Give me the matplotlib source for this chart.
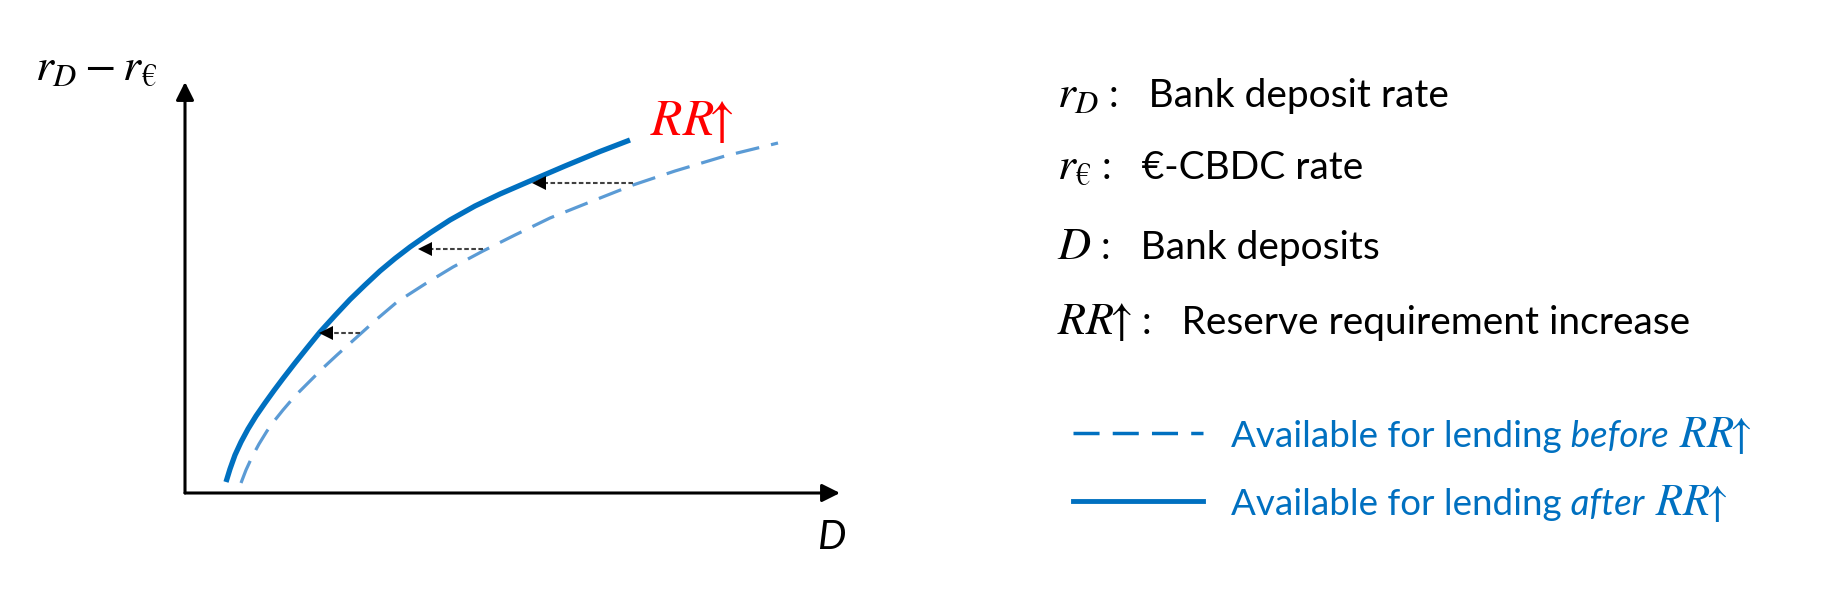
import matplotlib
matplotlib.use('Agg')
import matplotlib.pyplot as plt

plt.rcParams['font.family'] = ['Lato', 'DejaVu Sans']
plt.rcParams['mathtext.fontset'] = 'custom'
plt.rcParams['mathtext.it'] = 'STIXGeneral:italic'
plt.rcParams['mathtext.rm'] = 'STIXGeneral'
plt.rcParams['mathtext.fallback'] = 'stix'

# curves (D to the right, spread upwards)
after_x = [41, 45, 50, 56, 63, 71, 80, 89, 98, 110, 122, 135, 150, 165, 180, 195,
           210, 225, 245, 265, 290, 315, 345, 380, 415, 445]
after_y = [11, 24, 38, 51, 64, 77, 90, 102.5, 114.5, 130, 145, 161, 177.5, 193.5, 208, 222,
           234.5, 246, 260, 273, 287, 299, 312, 327, 341.5, 353]
before_x = [56, 61, 67, 74, 82, 90, 98, 110, 124, 138, 152, 172, 192, 212, 240, 268,
            298, 330, 365, 405, 448, 490, 540, 593]
before_y = [10, 23, 36, 49, 62, 73, 83, 97, 111, 125, 138, 156, 174, 191, 209, 226,
            242, 258, 275, 291, 308, 322, 337, 350]

# horizontal shift arrows (from the dashed curve to the solid one)
shift_from = [175, 298, 448]
shift_to = [134, 233, 347]
shift_y = [160, 244, 310]

glossary_symbols = [r'$r_D$', r'$r_€$', r'$D$', r'$RR\!\!\uparrow$']
glossary_texts = [' :   Bank deposit rate', ' :   €-CBDC rate', ' :   Bank deposits',
                  ' :   Reserve requirement increase']
legend_words = ['before', 'after']

blue = '#0070C0'
light_blue = '#5B9BD5'

fig = plt.figure(figsize=(18.35, 6), dpi=100)
renderer = fig.canvas.get_renderer()

# diagram
ax = fig.add_axes([185 / 1835, 107 / 600, 715 / 1835, 463 / 600])
ax.set_xlim(0, 715)
ax.set_ylim(0, 463)
ax.axis('off')

ax.annotate('', xy=(0, 411), xytext=(0, 0),
            arrowprops=dict(arrowstyle='-|>', lw=2.2, color='black',
                            mutation_scale=27, shrinkA=0, shrinkB=0))
ax.annotate('', xy=(655, 0), xytext=(0, 0),
            arrowprops=dict(arrowstyle='-|>', lw=2.2, color='black',
                            mutation_scale=27, shrinkA=0, shrinkB=0))

ax.plot(before_x, before_y, color=light_blue, lw=2.3, dashes=(7.5, 3.8),
        solid_capstyle='butt')
ax.plot(after_x, after_y, color=blue, lw=3.8, solid_capstyle='butt')

for x0, x1, y in zip(shift_from, shift_to, shift_y):
    ax.plot([x0, x1 + 8], [y, y], color='#404040', lw=1.5, dashes=(2.2, 1.2))
    ax.plot(x1 + 6.5, y, marker='<', markersize=10, color='black',
            markeredgewidth=0)

ax.text(-150, 413, r'$r_D - r_€$', fontsize=33, ha='left', va='baseline',
        clip_on=False)
ax.text(632, -56, 'D', fontsize=29, style='italic', ha='left', va='baseline',
        clip_on=False)
ax.text(465, 358, r'$RR\!\!\uparrow$', fontsize=37, color='red', ha='left',
        va='baseline', clip_on=False)

# glossary and legend, placed in figure pixels
lg = fig.add_axes([0, 0, 1, 1])
lg.set_xlim(0, 1835)
lg.set_ylim(600, 0)
lg.axis('off')
lg.patch.set_alpha(0)


def write_chain(x, y, parts, color):
    # draw text pieces one after another on the same baseline
    for s, kw in parts:
        t = lg.text(x, y, s, ha='left', va='baseline', color=color, **kw)
        bb = t.get_window_extent(renderer)
        x = lg.transData.inverted().transform((bb.x1, bb.y0))[0]


row_y = [107, 179, 259, 334]
for sym, txt, y in zip(glossary_symbols, glossary_texts, row_y):
    write_chain(1057, y, [(sym, dict(fontsize=33)), (txt, dict(fontsize=28))], 'black')

lg.plot([1073, 1203], [433, 433], color=blue, lw=2.5, dashes=(7.5, 3.8))
lg.plot([1073, 1203], [501, 501], color=blue, lw=3.5)
for word, y in zip(legend_words, [433, 501]):
    write_chain(1231, y + 14,
                [('Available for lending', dict(fontsize=26.5)),
                 (' ' + word, dict(fontsize=26.5, style='italic')),
                 (r' $RR\!\!\uparrow$', dict(fontsize=32))], blue)

fig.savefig('out.png', dpi=100)
